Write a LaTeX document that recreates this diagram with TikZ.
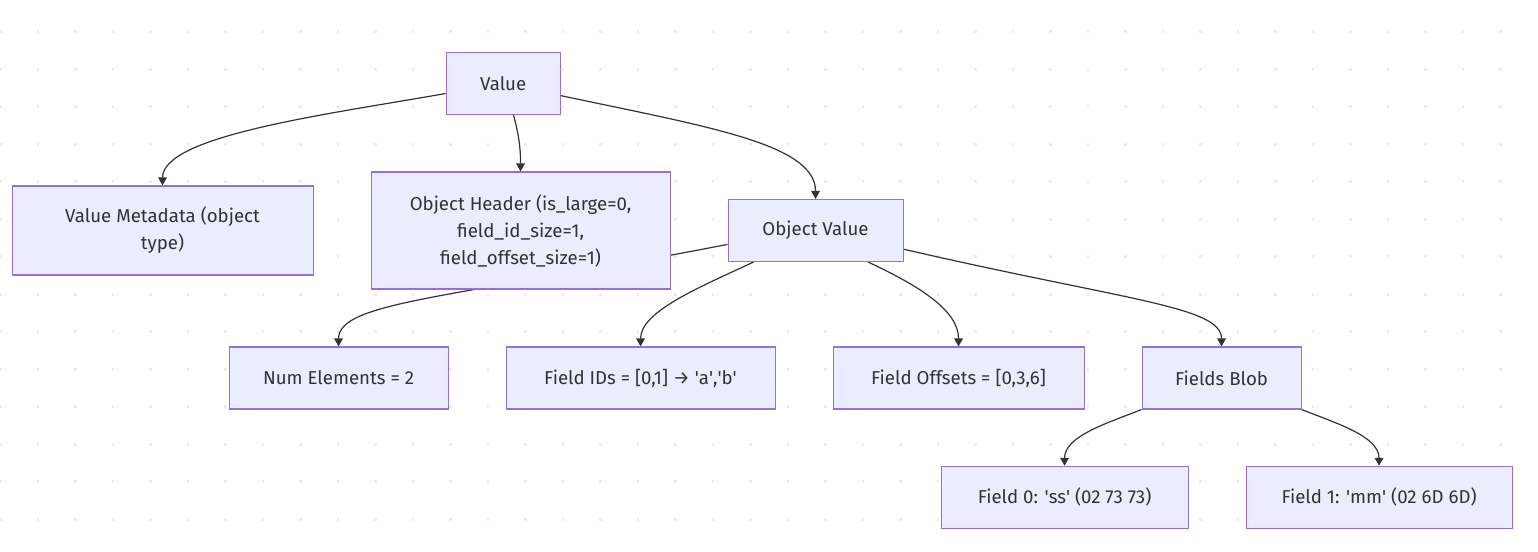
\documentclass[tikz,border=0pt]{standalone}
\usepackage{fontspec}
\setmainfont{Fira Sans}
\usetikzlibrary{arrows.meta,positioning,backgrounds}
\definecolor{boxc}{HTML}{ECECFF}
\definecolor{linec}{HTML}{9370DB}
\definecolor{edgec}{HTML}{333333}
\definecolor{dotc}{HTML}{ECECEC}
\newcommand{\sq}[1]{\textquotesingle#1\textquotesingle}

\begin{document}
\begin{tikzpicture}[
      box/.style={draw=linec,fill=boxc,line width=0.8pt,minimum height=46.5pt,align=center,text=edgec},
      edge/.style={-{Triangle[length=6pt,width=6.5pt]},line width=0.9pt,edgec},
      node distance=42.7pt,
      font=\fontsize{14pt}{20.25pt}\selectfont]
    \useasboundingbox (0,0) rectangle (1153.5pt,413.25pt);
    \begin{pgfonlayer}{background}
      \foreach \i in {0,...,40}
        \foreach \j in {0,...,13}
          \fill[dotc] (0.375pt+28.125pt*\i-1.1pt,389.5pt-28.125pt*\j-1.1pt) rectangle ++(2.2pt,2.2pt);
    \end{pgfonlayer}
    \node[box,minimum width=224.25pt,minimum height=87.75pt] (hdr) at (390.4pt,240.4pt) {Object Header (is\_large=0,\\field\_id\_size=1,\\field\_offset\_size=1)};
    \node[box,minimum width=225.75pt,minimum height=66.75pt,left=of hdr] (meta) {Value Metadata (object\\type)};
    \node[box,minimum width=131.25pt,right=of hdr] (obj) {Object Value};
    \node[box,minimum width=85.5pt,above=42.4pt of hdr,xshift=-13pt] (val) {Value};
    \node[box,minimum width=164.25pt,below=42.7pt of hdr,xshift=-136.5pt] (num) {Num Elements = 2};
    \node[box,minimum width=201.75pt,right=of num] (ids) {Field IDs = [0,1] → \sq{a},\sq{b}};
    \node[box,minimum width=188.25pt,right=of ids] (offs) {Field Offsets = [0,3,6]};
    \node[box,minimum width=119.25pt,right=of offs] (blob) {Fields Blob};
    \node[box,minimum width=185.25pt,below=42.2pt of blob,xshift=-117.75pt] (f0) {Field 0: \sq{ss} (02 73 73)};
    \node[box,minimum width=199.5pt,right=of f0] (f1) {Field 1: \sq{mm} (02 6D 6D)};
    \begin{pgfonlayer}{background}
      \draw[edge] (val.190) .. controls +(190:90pt) and +(0,37.5pt) .. (meta.north);
      \draw[edge] (val.-72) .. controls +(-75:15pt) and +(0,18.75pt) .. (hdr.north);
      \draw[edge] (val.-12) .. controls +(-12:112.5pt) and +(0,41.25pt) .. (obj.north);
      \draw[edge] (obj.189) .. controls +(191:210pt) and +(0,33.75pt) .. (num.north);
      \draw[edge] (obj.207) .. controls +(205:45pt) and +(0,26.25pt) .. (ids.north);
      \draw[edge] (obj.-31.5) .. controls +(-25:45pt) and +(0,26.25pt) .. (offs.north);
      \draw[edge] (obj.-12) .. controls +(-13:172.5pt) and +(0,30pt) .. (blob.north);
      \draw[edge] (blob.south west) .. controls +(202:26.25pt) and +(0,22.5pt) .. (f0.north);
      \draw[edge] (blob.south east) .. controls +(-22:26.25pt) and +(0,22.5pt) .. (f1.north);
    \end{pgfonlayer}
  \end{tikzpicture}
\end{document}
